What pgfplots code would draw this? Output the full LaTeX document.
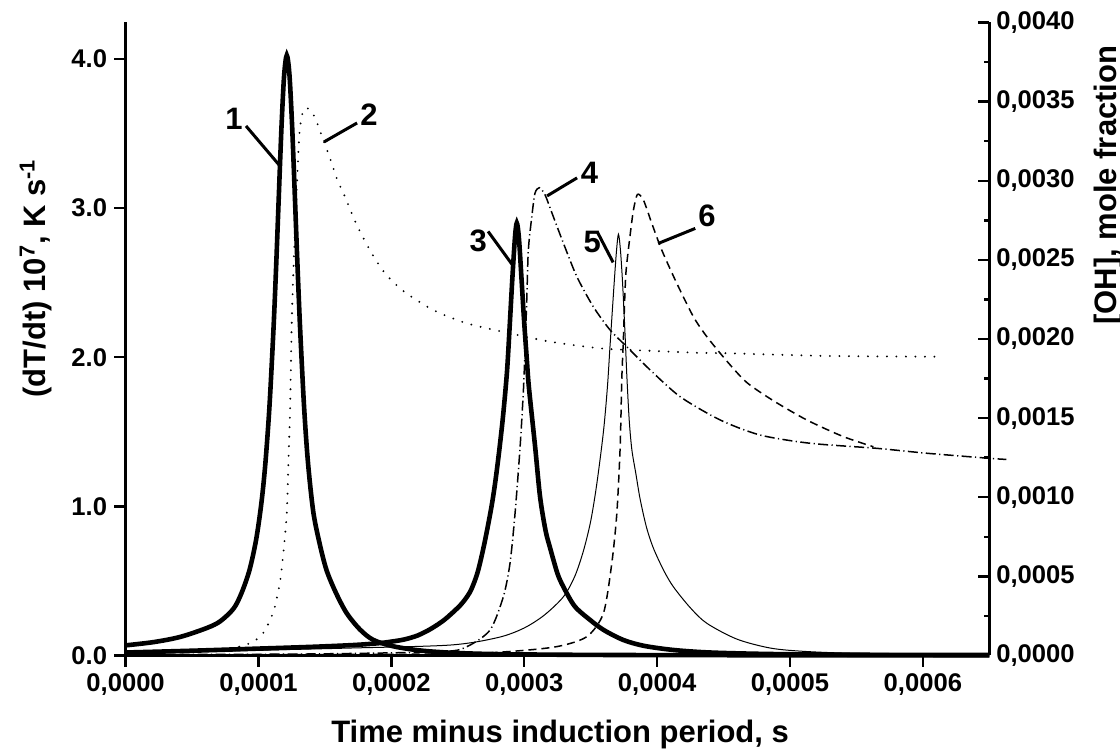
\documentclass[border=0pt]{standalone}
\usepackage{fontspec}
\setmainfont{Liberation Sans}
\usepackage{pgfplots}
\pgfplotsset{compat=1.18}

\pgfplotsset{
  common/.style={
    scale only axis, width=431.85pt, height=316.5pt,
    xmin=0, xmax=0.00065, clip=false,
    scaled x ticks=false, scaled y ticks=false,
    axis line style={-, line width=1.2pt},
    every tick/.style={black, line width=1.2pt},
    major tick length=5.75pt, minor tick length=2.5pt,
    tick label style={font=\fontsize{12.8}{14}\selectfont\bfseries},
    label style={font=\fontsize{15.5}{18}\selectfont\bfseries},
  },
  thick1/.style={black, line width=2.3pt, smooth, tension=0.5},
  thin1/.style={black, line width=0.5pt, smooth, tension=0.5},
  dots/.style={black, line width=1.05pt, line cap=round, dash pattern=on 0pt off 4.75pt, smooth, tension=0.45},
  dashes/.style={black, line width=0.75pt, dash pattern=on 4pt off 2.5pt, smooth, tension=0.45},
  dashdot/.style={black, line width=0.75pt, dash pattern=on 5pt off 1.7pt on 0.6pt off 1.7pt, smooth, tension=0.45},
}

\begin{document}
\bfseries
\begin{tikzpicture}
\useasboundingbox (-62.8pt,-49.25pt) rectangle (497.2pt,327.75pt);

% left axis: dT/dt curves 1, 3, 5
\begin{axis}[common,
  axis x line*=bottom, axis y line*=left,
  ymin=0, ymax=4.245,
  tick align=outside,
  xtick={0,0.0001,0.0002,0.0003,0.0004,0.0005,0.0006},
  xticklabels={{0,0000},{0,0001},{0,0002},{0,0003},{0,0004},{0,0005},{0,0006}},
  ytick={0,1,2,3,4},
  yticklabels={0.0,1.0,2.0,3.0,4.0},
  xlabel={Time minus induction period, s},
  xlabel style={at={(axis description cs:0.503,0)}, anchor=base, yshift=-43.5pt},
  ylabel={(dT/dt) 10\textsuperscript{7}, K s\textsuperscript{-1}},
  ylabel style={at={(axis description cs:-0.0933,0.596)}, anchor=base},
]
% 1
\addplot[thick1] coordinates {
(0,0.068) (0.0000213,0.090) (0.0000413,0.125) (0.0000613,0.185) (0.0000713,0.230)
(0.0000813,0.315) (0.0000873,0.420) (0.0000933,0.575) (0.0000983,0.780) (0.0001023,1.030)
(0.0001053,1.300) (0.0001083,1.675) (0.0001113,2.190) (0.0001133,2.610) (0.0001153,3.080)
(0.0001173,3.540) (0.0001193,3.890) (0.0001213,4.025) (0.0001233,3.896) (0.0001253,3.555)
(0.0001273,3.100) (0.0001293,2.630) (0.0001313,2.200) (0.0001343,1.670) (0.0001373,1.290)
(0.0001413,0.960) (0.0001463,0.740) (0.0001513,0.570) (0.0001583,0.420) (0.0001663,0.285)
(0.0001763,0.175) (0.0001863,0.105) (0.0002013,0.062) (0.0002213,0.034) (0.0002463,0.018)
(0.0002813,0.009) (0.00035,0.004) (0.00045,0.002) (0.00065,0.001)
};
% 3
\addplot[thick1] coordinates {
(0,0.020) (0.00005,0.032) (0.0000959,0.045) (0.00014,0.058) (0.0001712,0.070)
(0.00019,0.082) (0.0002,0.093) (0.00021,0.108) (0.00022,0.135) (0.00023,0.180)
(0.00024,0.240) (0.00025,0.320) (0.000255,0.370) (0.00026,0.440) (0.000265,0.560)
(0.00027,0.750) (0.000275,0.980) (0.000278,1.150) (0.000281,1.360) (0.000284,1.600)
(0.000287,1.900) (0.000289,2.200) (0.000291,2.520) (0.000293,2.800) (0.0002944,2.900)
(0.000296,2.800) (0.000298,2.520) (0.0003,2.230) (0.000302,1.980) (0.0003035,1.800)
(0.0003082,1.400) (0.0003119,1.065) (0.000316,0.840) (0.0003195,0.720) (0.000325,0.550)
(0.0003295,0.460) (0.000338,0.330) (0.0003496,0.238) (0.00036,0.170) (0.0003746,0.104)
(0.00039,0.065) (0.0004123,0.037) (0.00044,0.020) (0.0004851,0.010) (0.00055,0.005)
(0.00065,0.003)
};
% 5
\addplot[thin1] coordinates {
(0,0.015) (0.0000936,0.034) (0.0001689,0.050) (0.0002442,0.070) (0.00028,0.120)
(0.0002994,0.182) (0.000315,0.270) (0.0003295,0.394) (0.000338,0.530) (0.0003445,0.700)
(0.00035,0.900) (0.0003546,1.150) (0.0003596,1.500) (0.0003626,1.800) (0.0003646,2.080)
(0.0003677,2.500) (0.0003695,2.720) (0.0003709,2.825) (0.0003724,2.720) (0.000374,2.500)
(0.0003759,2.150) (0.0003772,1.880) (0.000379,1.580) (0.000381,1.380) (0.000384,1.220)
(0.0003872,1.050) (0.000392,0.860) (0.0003972,0.720) (0.000405,0.570) (0.0004123,0.460)
(0.000425,0.320) (0.0004374,0.216) (0.00046,0.110) (0.0004851,0.050) (0.00051,0.028)
(0.0005453,0.015) (0.0006,0.006) (0.00065,0.003)
};
% curve numbers and leaders
\tikzset{num/.style={font=\fontsize{15.5}{17}\selectfont\bfseries, anchor=center}}
\node[num] at (axis cs:0.0000816,3.602) {1};
\node[num] at (axis cs:0.0001832,3.625) {2};
\node[num] at (axis cs:0.0002653,2.780) {3};
\node[num] at (axis cs:0.0003492,3.236) {4};
\node[num] at (axis cs:0.0003511,2.773) {5};
\node[num] at (axis cs:0.0004376,2.948) {6};
\draw[line width=1.5pt] (axis cs:0.0000906,3.551) -- (axis cs:0.0001155,3.290);
\draw[line width=1.5pt] (axis cs:0.0001742,3.571) -- (axis cs:0.0001493,3.444);
\draw[line width=1.5pt] (axis cs:0.0002728,2.844) -- (axis cs:0.0002909,2.622);
\draw[line width=1.5pt] (axis cs:0.0003398,3.203) -- (axis cs:0.0003172,3.082);
\draw[line width=1.5pt] (axis cs:0.0003548,2.844) -- (axis cs:0.0003669,2.636);
\draw[line width=1.5pt] (axis cs:0.0004287,2.864) -- (axis cs:0.0004008,2.763);
\end{axis}

% right axis: [OH] curves 2, 4, 6
\begin{axis}[common,
  axis x line=none, axis y line*=right,
  ymin=0, ymax=0.004,
  tick align=inside,
  ytick={0,0.0005,0.001,0.0015,0.002,0.0025,0.003,0.0035,0.004},
  yticklabels={{0,0000},{0,0005},{0,0010},{0,0015},{0,0020},{0,0025},{0,0030},{0,0035},{0,0040}},
  minor y tick num=1,
  ylabel={{[OH], mole fraction}},
  ylabel style={at={(axis description cs:1.1467,0.743)}, anchor=base},
]
% 2
\addplot[dots] coordinates {
(0,0.00001) (0.0000560,0.000025) (0.0000861,0.000056) (0.0000999,0.000109) (0.0001057,0.000172)
(0.0001117,0.000288) (0.0001162,0.000466) (0.0001187,0.000646) (0.0001213,0.000899) (0.0001225,0.001215)
(0.0001237,0.001531) (0.0001243,0.001783) (0.0001250,0.002099) (0.0001262,0.002415) (0.0001275,0.002689)
(0.0001288,0.002942) (0.0001301,0.003194) (0.0001313,0.003341) (0.0001338,0.003447) (0.0001368,0.003458)
(0.0001401,0.003436) (0.0001438,0.003373) (0.0001488,0.003257) (0.0001539,0.003142) (0.0001589,0.003015)
(0.0001651,0.002899) (0.0001740,0.002720) (0.0001852,0.002542) (0.0001953,0.002415) (0.0002090,0.002303)
(0.0002316,0.002183) (0.0002568,0.002099) (0.0002893,0.002036) (0.0003195,0.001983) (0.0003571,0.001941)
(0.0003822,0.001930) (0.0004299,0.001913) (0.0004525,0.001910) (0.0005277,0.001893) (0.0006155,0.001888)
};
% 4
\addplot[dashdot] coordinates {
(0,0.000006) (0.0001313,0.000009) (0.0002367,0.000024) (0.0002568,0.000056) (0.0002743,0.000161)
(0.0002843,0.000372) (0.0002893,0.000583) (0.0002931,0.000899) (0.0002969,0.001319) (0.0002994,0.001678)
(0.0003006,0.001930) (0.0003019,0.002246) (0.0003031,0.002562) (0.0003057,0.002773) (0.0003081,0.002921)
(0.0003114,0.002956) (0.0003157,0.002910) (0.0003219,0.002773) (0.0003295,0.002605) (0.0003396,0.002394)
(0.0003520,0.002204) (0.0003646,0.002057) (0.0003772,0.001951) (0.0003948,0.001804) (0.0004174,0.001635)
(0.0004475,0.001488) (0.0004776,0.001393) (0.0005152,0.001341) (0.0005654,0.001309) (0.0006030,0.001278)
(0.00065,0.001246) (0.0006628,0.001239)
};
% 6
\addplot[dashes] coordinates {
(0,0.000003) (0.0002367,0.000009) (0.0002869,0.000024) (0.0003245,0.000056) (0.0003471,0.000119)
(0.0003596,0.000267) (0.0003659,0.000583) (0.0003697,0.000899) (0.0003722,0.001319) (0.0003734,0.001741)
(0.0003746,0.001994) (0.0003756,0.002246) (0.0003767,0.002436) (0.0003797,0.002657) (0.0003822,0.002815)
(0.0003852,0.002914) (0.0003897,0.002878) (0.0003960,0.002731) (0.0004035,0.002562) (0.0004148,0.002352)
(0.0004273,0.002141) (0.0004374,0.002015) (0.0004525,0.001860) (0.0004675,0.001725) (0.0004875,0.001610)
(0.0005127,0.001488) (0.0005402,0.001383) (0.0005628,0.001319)
};
\end{axis}
\end{tikzpicture}
\end{document}
